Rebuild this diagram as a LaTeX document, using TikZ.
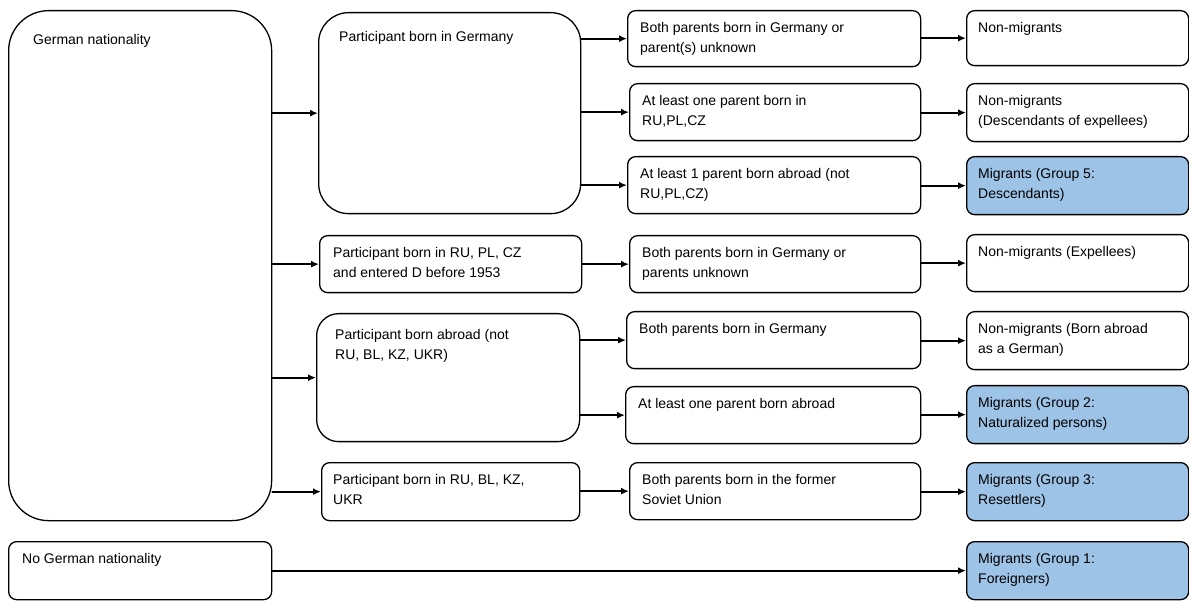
\documentclass[tikz,border=0pt]{standalone}
\usepackage{fontspec}
\setmainfont{Liberation Sans}
\usetikzlibrary{arrows.meta}
\definecolor{migblue}{RGB}{157,195,230}
\begin{document}
\begin{tikzpicture}[line cap=round,line join=round,>={Latex[length=8pt,width=7pt]},x=1pt,y=-1pt,
	box/.style={draw,line width=1.3pt,rounded corners=8pt,anchor=north west,inner sep=0pt},
	mig/.style={box,fill=migblue},
	txt/.style={anchor=north west,align=left,inner sep=0pt,font=\fontsize{14}{20}\selectfont},
	arr/.style={->,line width=2pt}]
		% Limites du dessin
		\useasboundingbox (0,0) rectangle (1189,601);
		
		% Nationality
		\node[box,rounded corners=40pt,minimum width=263,minimum height=510] (gn) at (8,10) {};
		\node[txt] (gn-t) at ([shift={(25,24)}]gn.north west) {German nationality};
		\node[box,minimum width=263,minimum height=58] (ngn) at (8,541) {};
		\node[txt] (ngn-t) at ([shift={(14,12)}]ngn.north west) {No German nationality};
		
		% Place of birth
		\node[box,rounded corners=30pt,minimum width=262,minimum height=201] (pbg) at (318,12) {};
		\node[txt] (pbg-t) at ([shift={(21,19)}]pbg.north west) {Participant born in Germany};
		\node[box,minimum width=262,minimum height=57] (prc) at (319,235) {};
		\node[txt] (prc-t) at ([shift={(14,12)}]prc.north west) {Participant born in RU, PL, CZ\\and entered D before 1953};
		\node[box,rounded corners=22pt,minimum width=263,minimum height=128] (pab) at (316,313) {};
		\node[txt] (pab-t) at ([shift={(19,16)}]pab.north west) {Participant born abroad (not\\RU, BL, KZ, UKR)};
		\node[box,minimum width=258,minimum height=58] (prb) at (321,462) {};
		\node[txt] (prb-t) at ([shift={(12,12)}]prb.north west) {Participant born in RU, BL, KZ,\\UKR};
		
		% Parents
		\node[box,minimum width=293,minimum height=56] (c1) at (627,10) {};
		\node[txt] (c1-t) at ([shift={(13,12)}]c1.north west) {Both parents born in Germany or\\parent(s) unknown};
		\node[box,minimum width=291,minimum height=57] (c2) at (629,83) {};
		\node[txt] (c2-t) at ([shift={(13,12)}]c2.north west) {At least one parent born in\\RU,PL,CZ};
		\node[box,minimum width=293,minimum height=57] (c3) at (627,156) {};
		\node[txt] (c3-t) at ([shift={(13,12)}]c3.north west) {At least 1 parent born abroad (not\\RU,PL,CZ)};
		\node[box,minimum width=291,minimum height=57] (c4) at (629,235) {};
		\node[txt] (c4-t) at ([shift={(13,12)}]c4.north west) {Both parents born in Germany or\\parents unknown};
		\node[box,minimum width=294,minimum height=57] (c5) at (626,311) {};
		\node[txt] (c5-t) at ([shift={(13,12)}]c5.north west) {Both parents born in Germany};
		\node[box,minimum width=295,minimum height=57] (c6) at (625,386) {};
		\node[txt] (c6-t) at ([shift={(13,12)}]c6.north west) {At least one parent born abroad};
		\node[box,minimum width=291,minimum height=57] (c7) at (629,462) {};
		\node[txt] (c7-t) at ([shift={(13,12)}]c7.north west) {Both parents born in the former\\Soviet Union};
		
		% Result
		\node[box,minimum width=222,minimum height=55] (d1) at (966,10) {};
		\node[txt] (d1-t) at ([shift={(12,12)}]d1.north west) {Non-migrants};
		\node[box,minimum width=222,minimum height=58] (d2) at (966,83) {};
		\node[txt] (d2-t) at ([shift={(12,12)}]d2.north west) {Non-migrants\\(Descendants of expellees)};
		\node[mig,minimum width=222,minimum height=58] (d3) at (966,156) {};
		\node[txt] (d3-t) at ([shift={(12,12)}]d3.north west) {Migrants (Group 5:\\Descendants)};
		\node[box,minimum width=222,minimum height=57] (d4) at (966,234) {};
		\node[txt] (d4-t) at ([shift={(12,12)}]d4.north west) {Non-migrants (Expellees)};
		\node[box,minimum width=222,minimum height=58] (d5) at (966,311) {};
		\node[txt] (d5-t) at ([shift={(12,12)}]d5.north west) {Non-migrants (Born abroad\\as a German)};
		\node[mig,minimum width=222,minimum height=58] (d6) at (966,385) {};
		\node[txt] (d6-t) at ([shift={(12,12)}]d6.north west) {Migrants (Group 2:\\Naturalized persons)};
		\node[mig,minimum width=222,minimum height=58] (d7) at (966,462) {};
		\node[txt] (d7-t) at ([shift={(12,12)}]d7.north west) {Migrants (Group 3:\\Resettlers)};
		\node[mig,minimum width=222,minimum height=58] (d8) at (966,541) {};
		\node[txt] (d8-t) at ([shift={(12,12)}]d8.north west) {Migrants (Group 1:\\Foreigners)};
		
		% Fleches
		\foreach \b in {pbg,prc,pab,prb}
			\draw[arr] (gn.east |- \b) -- (\b);
		\foreach \c in {c1,c2,c3}
			\draw[arr] (pbg.east |- \c) -- (\c);
		\draw[arr] (prc) -- (c4);
		\foreach \c in {c5,c6}
			\draw[arr] (pab.east |- \c) -- (\c);
		\draw[arr] (prb.east |- c7) -- (c7);
		\foreach \c/\d in {c1/d1,c2/d2,c3/d3,c4/d4,c5/d5,c6/d6,c7/d7}
			\draw[arr] (\c.east |- \d) -- (\d);
		\draw[arr] (ngn) -- (d8);
	\end{tikzpicture}
\end{document}
